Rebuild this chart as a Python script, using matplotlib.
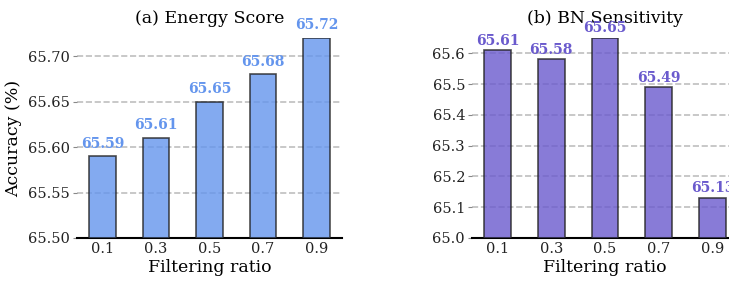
import numpy as np
import matplotlib
matplotlib.use("Agg")
import matplotlib.pyplot as plt

plt.rcParams['font.family'] = 'DejaVu Serif'

ratios = ["0.1", "0.3", "0.5", "0.7", "0.9"]
energy_acc = [65.59, 65.61, 65.65, 65.68, 65.72]
bn_acc = [65.61, 65.58, 65.65, 65.49, 65.13]

fig = plt.figure(figsize=(7.29, 2.85), dpi=100)
ax1 = fig.add_axes([0.1056, 0.165, 0.3634, 0.702])
ax2 = fig.add_axes([0.6475, 0.165, 0.3649, 0.702])

panels = [
    (ax1, energy_acc, "(a) Energy Score", "cornflowerblue", (65.50, 65.72),
     [65.50, 65.55, 65.60, 65.65, 65.70], "{:.2f}", 0.006),
    (ax2, bn_acc, "(b) BN Sensitivity", "slateblue", (65.0, 65.65),
     [65.0, 65.1, 65.2, 65.3, 65.4, 65.5, 65.6], "{:.1f}", 0.008),
]

x = np.arange(len(ratios))
for ax, vals, title, col, ylim, yt, fmt, off in panels:
    bottom = ylim[0]
    ax.bar(x, np.array(vals) - bottom, bottom=bottom, width=0.5, color=col,
           alpha=0.8, edgecolor="#222222", linewidth=1.2, zorder=3)
    for xi, v in zip(x, vals):
        ax.text(xi, v + off, f"{v:.2f}", ha="center", va="bottom", color=col,
                fontsize=10, fontweight="bold", zorder=4, clip_on=False)
    ax.set_ylim(*ylim)
    ax.set_yticks(yt)
    ax.set_yticklabels([fmt.format(t) for t in yt])
    ax.set_xticks(x)
    ax.set_xticklabels(ratios)
    ax.tick_params(axis="both", labelsize=10.5, colors="#222222")
    ax.tick_params(axis="y", length=3, pad=2, colors="#888888", labelcolor="#222222")
    ax.tick_params(axis="x", length=0, pad=3)
    ax.grid(axis="y", linestyle="--", color="gray", alpha=0.5, linewidth=1.2, zorder=0)
    for s in ["top", "right", "left"]:
        ax.spines[s].set_visible(False)
    ax.spines["bottom"].set_linewidth(1.5)
    ax.set_title(title, fontsize=12.5, pad=11)
    ax.set_xlabel("Filtering ratio", fontsize=12.5, labelpad=2)

ax1.set_ylabel("Accuracy (%)", fontsize=12.5, labelpad=4)

fig.savefig("out.png", dpi=100)
